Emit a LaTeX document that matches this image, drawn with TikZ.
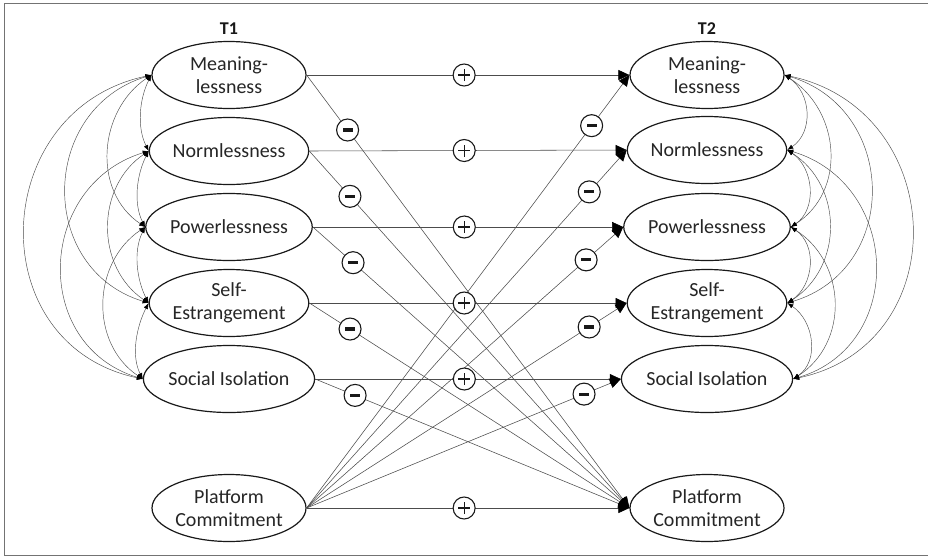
\documentclass[tikz,border=0pt]{standalone}
\usepackage{fontspec}
\setmainfont{Carlito}
\usetikzlibrary{shapes.geometric,arrows.meta,calc}
\begin{document}
\begin{tikzpicture}[x=1pt,y=-1pt,
  var/.style={ellipse, draw=black!90, line width=1.2pt, fill=white, minimum width=154pt, minimum height=67pt, inner sep=0pt, align=center, font=\fontsize{20}{22.5}\selectfont, text=black!85},
  conn/.style={draw=black!70, line width=0.55pt},
  arr/.style={conn, -{Triangle[length=11pt,width=10pt,color=black]}},
  cov/.style={draw=black!70, line width=0.45pt, {Latex[length=6pt,width=4.5pt,color=black]}-{Latex[length=6pt,width=4.5pt,color=black]}},
  sgn/.style={circle, draw=black!90, line width=1.1pt, fill=white, minimum size=22pt, inner sep=0pt},
  plussign/.style={sgn, path picture={
     \draw[line width=1.2pt,black!90] ([xshift=-6pt]path picture bounding box.center) -- ([xshift=6pt]path picture bounding box.center);
     \draw[line width=1.2pt,black!90] ([yshift=-6pt]path picture bounding box.center) -- ([yshift=6pt]path picture bounding box.center);}},
  minussign/.style={sgn, path picture={
     \fill[black!90] ([xshift=-5pt,yshift=-1.6pt]path picture bounding box.center) rectangle ([xshift=5pt,yshift=1.6pt]path picture bounding box.center);}},
  lbl/.style={font=\bfseries\fontsize{18}{18}\selectfont, text=black!90}
]
\useasboundingbox (0,0) rectangle (928,557);
\fill[white] (0,0) rectangle (928,557);
\draw[black!55, line width=1.3pt] (935,3.5) -- (4.5,3.5) -- (4.5,555.5) -- (935,555.5);

% left nodes
\node[var] (L1) at (229,75) {Meaning-\\lessness};
\node[var] (L2) at (229,151) {Normlessness};
\node[var] (L3) at (229,227) {Powerlessness};
\node[var] (L4) at (229,303) {Self-\\Estrangement};
\node[var] (L5) at (229,379) {Social Isolation};
\node[var] (LP) at (229,508) {Platform\\Commitment};
% right nodes
\node[var] (R1) at (707,75) {Meaning-\\lessness};
\node[var] (R2) at (707,150) {Normlessness};
\node[var] (R3) at (707,227) {Powerlessness};
\node[var] (R4) at (707,303) {Self-\\Estrangement};
\node[var] (R5) at (707,379) {Social Isolation};
\node[var] (RP) at (707,508) {Platform\\Commitment};

\node[lbl] (T1) at (229,29) {T1};
\node[lbl] (T2) at (707,29) {T2};

% stability paths
\foreach \i in {1,...,5} {
  \draw[arr] (L\i.east) -- coordinate[pos=0.488] (p\i) (R\i.west);
  \draw[arr] (L\i.east) -- coordinate[pos=0.127] (ml\i) (RP.west);
  \draw[arr] (LP.east) -- coordinate[pos=0.883] (mr\i) (R\i.west);
}
\draw[arr] (LP.east) -- coordinate[pos=0.488] (p6) (RP.west);

% covariances left
\foreach \a/\b/\cx/\cy in {1/2/12/23.5, 2/3/12/23.5, 3/4/12/23.5, 4/5/12/23.5,
                            1/3/53.3/35.8, 2/4/53.3/35.8, 3/5/53.3/35.8,
                            1/4/112/34.2, 2/5/112/34.2,
                            1/5/163/34.7} {
  \draw[cov] (L\a.west) .. controls ($(L\a.west)+(-\cx,\cy)$) and ($(L\b.west)+(-\cx,-\cy)$) .. (L\b.west);
}
% covariances right
\foreach \a/\b/\cx/\cy in {1/2/26.6/17.9, 2/3/26.6/17.9, 3/4/26.6/17.9, 4/5/26.6/17.9,
                            1/3/56/36, 2/4/56/36, 3/5/56/36,
                            1/4/113.3/34, 2/5/113.3/34,
                            1/5/164/35} {
  \draw[cov] (R\a.east) .. controls ($(R\a.east)+(\cx,\cy)$) and ($(R\b.east)+(\cx,-\cy)$) .. (R\b.east);
}

% sign circles
\foreach \i in {1,...,6} { \node[plussign] (ps\i) at (p\i) {}; }
\foreach \i in {1,...,5} {
  \node[minussign] (msl\i) at (ml\i) {};
  \node[minussign] (msr\i) at (mr\i) {};
}
\end{tikzpicture}
\end{document}
